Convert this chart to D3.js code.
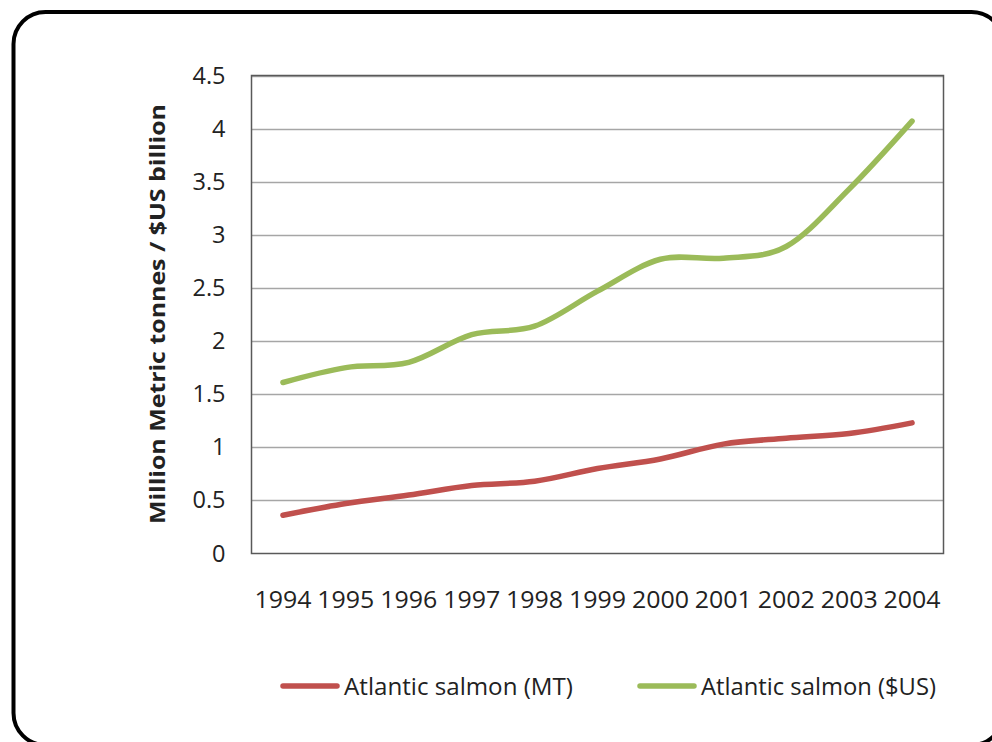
<!DOCTYPE html>
<html><head><meta charset="utf-8">
<script src="https://cdn.jsdelivr.net/npm/d3@7"></script>
<style>body{margin:0;background:#fff;}svg{display:block;}text{font-family:"Open Sans",sans-serif;fill:#222;}</style>
</head><body>
<svg id="c" width="992" height="742"></svg>
<script>
const years = ["1994","1995","1996","1997","1998","1999","2000","2001","2002","2003","2004"];
const mtValues = [0.36,0.47,0.55,0.64,0.68,0.80,0.89,1.03,1.085,1.13,1.23];
const usdValues = [1.61,1.75,1.80,2.06,2.14,2.47,2.77,2.78,2.89,3.43,4.07];
const yTicks = [0,0.5,1,1.5,2,2.5,3,3.5,4,4.5];
const seriesNames = ["Atlantic salmon (MT)","Atlantic salmon ($US)"];
const seriesColors = ["#C0504D","#9BBB59"];

const svg = d3.select("#c");
svg.append("rect").attr("x",13.5).attr("y",12).attr("width",990).attr("height",733)
  .attr("rx",32).attr("fill","#fff").attr("stroke","#000").attr("stroke-width",4);

const L=251.5,R=943.5,T=75.5,B=553.5;
const x = d3.scaleBand().domain(years).range([L,R]);
const y = d3.scaleLinear().domain([0,4.5]).range([B,T]);

// gridlines
svg.append("g").selectAll("line").data(yTicks.filter(d=>d>0)).join("line")
  .attr("x1",L).attr("x2",R).attr("y1",d=>Math.round(y(d))+0.5).attr("y2",d=>Math.round(y(d))+0.5)
  .attr("stroke","#a6a6a6").attr("stroke-width",1.5);

// y axis
const ya = svg.append("g").attr("transform",`translate(${L},0)`)
  .call(d3.axisLeft(y).tickValues(yTicks).tickSize(0).tickPadding(26).tickFormat(d=>d));
ya.select(".domain").remove();
ya.selectAll("text").attr("font-size",23.5).attr("fill","#222").style("font-family","Open Sans");

// x axis
const xa = svg.append("g").attr("transform",`translate(0,${B})`)
  .call(d3.axisBottom(x).tickSize(0).tickPadding(38));
xa.select(".domain").remove();
xa.selectAll("text").attr("font-size",23.5).attr("fill","#222").attr("textLength",57).attr("lengthAdjust","spacingAndGlyphs").style("font-family","Open Sans");

// plot border
svg.append("rect").attr("x",L).attr("y",T).attr("width",R-L).attr("height",B-T)
  .attr("fill","none").attr("stroke","#595959").attr("stroke-width",1.5);

// lines
const line = d3.line().x((d,i)=>x(years[i])+x.bandwidth()/2).y(d=>y(d)).curve(d3.curveCardinal.tension(0));
[mtValues,usdValues].forEach((vals,k)=>{
  svg.append("path").datum(vals).attr("d",line).attr("fill","none")
    .attr("stroke",seriesColors[k]).attr("stroke-width",5.5).attr("stroke-linecap","round");
});

// y title
svg.append("text").attr("transform","translate(165,314) rotate(-90)").attr("text-anchor","middle")
  .attr("font-size",21).attr("font-weight","bold").attr("textLength",420).attr("lengthAdjust","spacingAndGlyphs")
  .text("Million Metric tonnes / $US billion");

// legend
const legX=[283,640];
const legW=[229,235];
seriesNames.forEach((n,k)=>{
  svg.append("line").attr("x1",legX[k]).attr("x2",legX[k]+54).attr("y1",686).attr("y2",686)
    .attr("stroke",seriesColors[k]).attr("stroke-width",5.5).attr("stroke-linecap","round");
  svg.append("text").attr("x",legX[k]+61).attr("y",695).attr("font-size",23.5)
    .attr("textLength",legW[k]).attr("lengthAdjust","spacingAndGlyphs").text(n);
});
</script>
</body></html>
